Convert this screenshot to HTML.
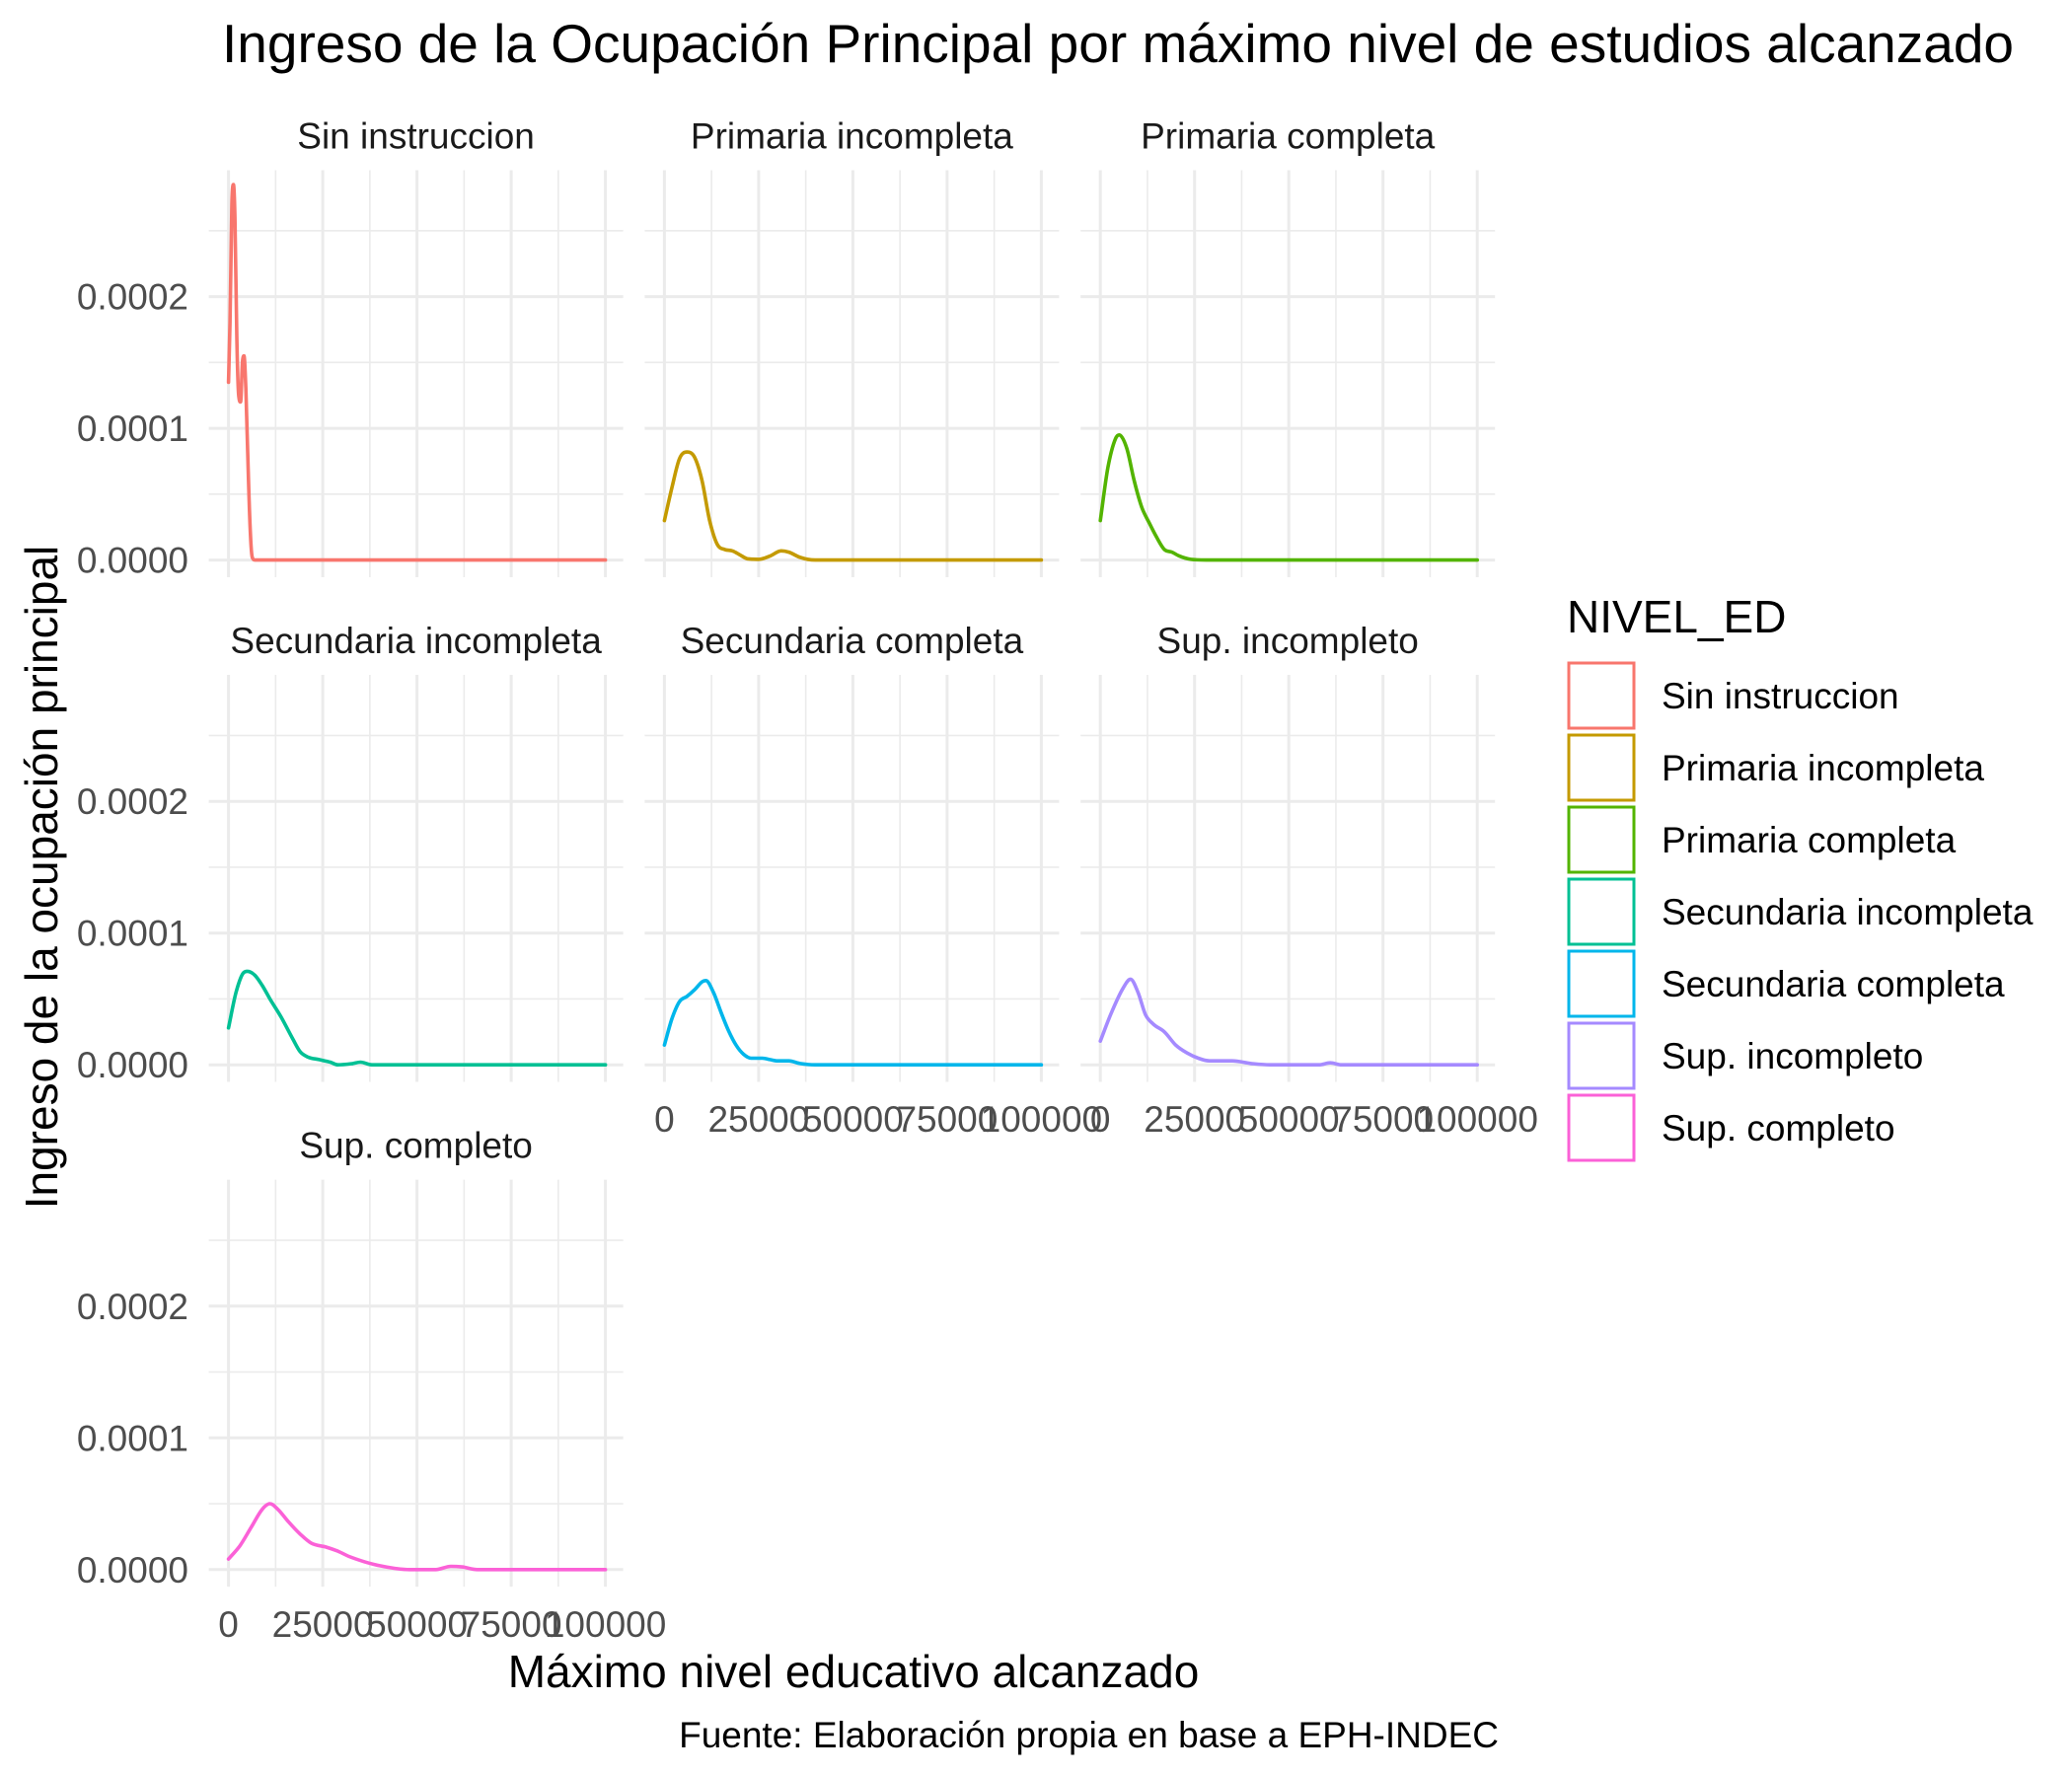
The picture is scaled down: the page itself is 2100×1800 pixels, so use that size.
<!DOCTYPE html>
<html><head><meta charset="utf-8"><style>
html,body{margin:0;padding:0;background:#fff;}
svg{display:block;font-family:"Liberation Sans",Arial,sans-serif;}
</style></head>
<body>
<svg id="chart" width="2100" height="1800" viewBox="0 0 2100 1800" xmlns="http://www.w3.org/2000/svg">
<rect width="2100" height="1800" fill="#fff"/>
<text x="1133" y="63" font-size="55" text-anchor="middle" fill="#000">Ingreso de la Ocupación Principal por máximo nivel de estudios alcanzado</text>
<text transform="translate(58,889) rotate(-90)" font-size="46" text-anchor="middle" fill="#000">Ingreso de la ocupación principal</text>
<text x="865" y="1710" font-size="46" text-anchor="middle" fill="#000">Máximo nivel educativo alcanzado</text>
<text x="1519" y="1771" font-size="37" text-anchor="end" fill="#000">Fuente: Elaboración propia en base a EPH-INDEC</text>
<g id="panels"></g>
<g id="legend"></g>
</svg>
<script>
const categories = ["Sin instruccion","Primaria incompleta","Primaria completa","Secundaria incompleta","Secundaria completa","Sup. incompleto","Sup. completo"];
const colors = ["#F8766D","#C49A00","#53B400","#00C094","#00B6EB","#A58AFF","#FB61D7"];
const xTickValues = [0,25000,50000,75000,100000];
const xTickLabels = ["0","25000","50000","75000","100000"];
const yTickValues = [0,0.0001,0.0002];
const yTickLabels = ["0.0000","0.0001","0.0002"];
// density series: x in thousands, y in units of 1e-4
const xsSin = [0,0.4,0.9,1.3,1.7,2.2,2.7,3.2,3.7,4.1,4.6,5.2,5.8,6.3,7,100];
const ysSin = [1.35,1.8,2.7,2.85,2.6,1.7,1.25,1.2,1.5,1.55,1.3,0.7,0.2,0.02,0,0];
const xsPrimInc = [0,2,4,6,8,10,12,14,16,18,20,22,25,28,31,33,36,40,100];
const ysPrimInc = [0.3,0.55,0.77,0.82,0.78,0.6,0.3,0.12,0.08,0.07,0.04,0.01,0.005,0.03,0.07,0.06,0.02,0,0];
const xsPrimComp = [0,2,4,5,7,9,11,13,15,17,19,21,24,28,100];
const ysPrimComp = [0.3,0.7,0.92,0.95,0.85,0.6,0.4,0.28,0.17,0.08,0.06,0.03,0.005,0,0];
const xsSecInc = [0,2,4,5,7,9,11,14,17,19,21,24,27,29,33,35,38,100];
const ysSecInc = [0.28,0.55,0.7,0.71,0.68,0.6,0.5,0.36,0.2,0.1,0.06,0.04,0.02,0,0.01,0.02,0,0];
const xsSecComp = [0,2,4,6,8,10,11,13,15,17,19,21,23,26,28,30,33,36,40,100];
const ysSecComp = [0.15,0.35,0.48,0.52,0.57,0.63,0.64,0.55,0.4,0.26,0.15,0.08,0.05,0.05,0.04,0.03,0.03,0.01,0,0];
const xsSupInc = [0,3,6,8,10,12,14,17,20,23,26,29,35,40,45,58,61,64,100];
const ysSupInc = [0.18,0.4,0.58,0.65,0.55,0.38,0.31,0.25,0.15,0.09,0.05,0.03,0.03,0.01,0,0,0.015,0,0];
const xsSupComp = [0,3,6,9,11,13,16,19,22,26,29,32,36,40,44,48,55,59,62,66,100];
const ysSupComp = [0.08,0.18,0.32,0.46,0.5,0.46,0.36,0.27,0.2,0.17,0.14,0.1,0.06,0.03,0.01,0,0,0.025,0.02,0,0];
const seriesX = [xsSin,xsPrimInc,xsPrimComp,xsSecInc,xsSecComp,xsSupInc,xsSupComp];
const seriesY = [ysSin,ysPrimInc,ysPrimComp,ysSecInc,ysSecComp,ysSupInc,ysSupComp];

const NS = "http://www.w3.org/2000/svg";
function mk(tag, attrs, parent){const e=document.createElementNS(NS,tag);for(const k in attrs)e.setAttribute(k,attrs[k]);parent.appendChild(e);return e;}
const colX0 = [231.6,673.4,1115.2];
const rowY0 = [567.6,1079.2,1590.8];
const xScalePx = 382/100000;
const yScalePx = 133.5/0.0001;
const panels = document.getElementById('panels');

// monotone cubic (Fritsch-Carlson) path in pixel space
function monotonePath(P){
  const n=P.length, d=[], m=new Array(n);
  for(let i=0;i<n-1;i++) d.push((P[i+1][1]-P[i][1])/(P[i+1][0]-P[i][0]));
  m[0]=d[0]; m[n-1]=d[n-2];
  for(let i=1;i<n-1;i++){ m[i]=(d[i-1]*d[i]<=0)?0:(d[i-1]+d[i])/2; }
  for(let i=0;i<n-1;i++){
    if(d[i]===0){m[i]=0;m[i+1]=0;continue;}
    const a=m[i]/d[i], b=m[i+1]/d[i], s=a*a+b*b;
    if(s>9){const t=3/Math.sqrt(s); m[i]=t*a*d[i]; m[i+1]=t*b*d[i];}
  }
  let path='M'+P[0][0].toFixed(1)+','+P[0][1].toFixed(1);
  for(let i=0;i<n-1;i++){
    const h=(P[i+1][0]-P[i][0])/3;
    path+=' C'+(P[i][0]+h).toFixed(1)+','+(P[i][1]+m[i]*h).toFixed(1)+' '+(P[i+1][0]-h).toFixed(1)+','+(P[i+1][1]-m[i+1]*h).toFixed(1)+' '+P[i+1][0].toFixed(1)+','+P[i+1][1].toFixed(1);
  }
  return path;
}

categories.forEach((cat,i)=>{
  const col=i%3,row=Math.floor(i/3);
  const x0=colX0[col], y0=rowY0[row];
  const sx=v=>x0+v*xScalePx, sy=v=>y0-v*yScalePx;
  const g=mk('g',{},panels);
  
  
  const left=sx(0)-20, right=sx(100000)+18, top=sy(0.000296), bottom=sy(-0.000013);
  for(let v=0.00005; v<0.0003; v+=0.0001){const l=mk('line',{x1:left,x2:right,y1:sy(v),y2:sy(v),stroke:'#EBEBEB','stroke-width':1.6},g);
    
    }
  for(let v=12500; v<100000; v+=25000){const l=mk('line',{x1:sx(v),x2:sx(v),y1:top,y2:bottom,stroke:'#EBEBEB','stroke-width':1.6},g);
    
    }
  yTickValues.forEach(v=>{const l=mk('line',{x1:left,x2:right,y1:sy(v),y2:sy(v),stroke:'#EBEBEB','stroke-width':3},g);
    
    });
  xTickValues.forEach(v=>{const l=mk('line',{x1:sx(v),x2:sx(v),y1:top,y2:bottom,stroke:'#EBEBEB','stroke-width':3},g);
    
    });
  const st=mk('text',{x:(left+right)/2,y:top-22,'font-size':37,'text-anchor':'middle',fill:'#1A1A1A'},g);
  st.textContent=cat;
  
  
  if(col===0){yTickValues.forEach((v,k)=>{const t=mk('text',{x:191,y:sy(v)+13,'font-size':37,'text-anchor':'end',fill:'#4D4D4D'},g);
    t.textContent=yTickLabels[k];
    
    });}
  const showX = (row===2) || (row===1 && col>0);
  if(showX){xTickValues.forEach((v,k)=>{const t=mk('text',{x:sx(v),y:y0+68,'font-size':37,'text-anchor':'middle',fill:'#4D4D4D'},g);
    t.textContent=xTickLabels[k];
    
    });}
  const xs=seriesX[i], ys=seriesY[i];
  const P=xs.map((x,k)=>[sx(x*1000), sy(ys[k]*1e-4)]);
  const p=mk('path',{d:monotonePath(P),fill:'none',stroke:colors[i],'stroke-width':3.6,'stroke-linejoin':'round','stroke-linecap':'round'},g);
  
  
});

const lg=document.getElementById('legend');
const lt=mk('text',{x:1588,y:641,'font-size':46,fill:'#000'},lg);
lt.textContent='NIVEL_ED';


categories.forEach((cat,i)=>{
  const y=672+i*73;
  const r=mk('rect',{x:1590,y:y,width:66,height:66,fill:'#fff',stroke:colors[i],'stroke-width':3},lg);
  
  
  const t=mk('text',{x:1684,y:y+46,'font-size':37,fill:'#000'},lg);
  t.textContent=cat;
  
  
});
</script>
</body></html>
